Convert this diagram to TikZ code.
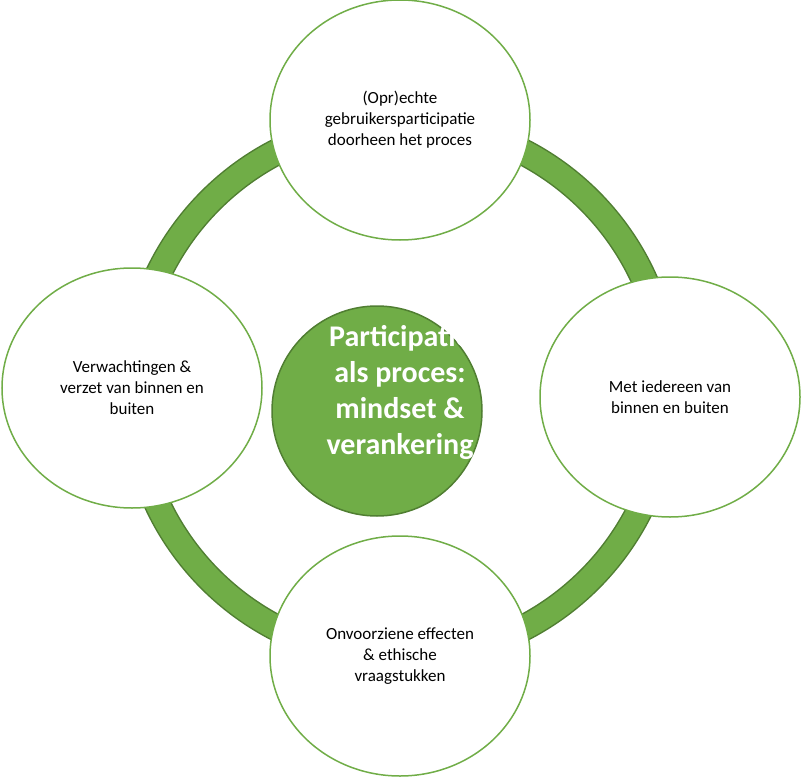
\documentclass[tikz,border=0pt]{standalone}
\usepackage{fontspec}
\setmainfont{Carlito}
\definecolor{gr}{HTML}{70AD47}
\definecolor{grd}{HTML}{507E32}
\usetikzlibrary{shapes.geometric}
\begin{document}
\begin{tikzpicture}[x=1pt,y=-1pt,
 outer/.style={ellipse,draw=gr,line width=1.5pt,fill=white,minimum width=260pt,minimum height=240pt,inner sep=0pt,align=center,font=\fontsize{17}{21}\selectfont},
 ctr/.style={circle,draw=grd,line width=1.5pt,fill=gr,minimum size=210pt,inner sep=0pt}]
\useasboundingbox (0,0) rectangle (801,779);
\draw[grd,line width=27pt] (400,390) circle (268);
\draw[gr,line width=24pt] (400,390) circle (268);
\node[outer] (t) at (400,120) {(Opr)echte\\gebruikersparticipatie\\doorheen het proces};
\node[outer] (b) at (400,656) {Onvoorziene effecten\\\& ethische\\vraagstukken};
\node[outer] (l) at (132,388) {Verwachtingen \&\\verzet van binnen en\\buiten};
\node[outer] (r) at (670,397) {Met iedereen van\\binnen en buiten};
\node[ctr] (c) at (377,411) {};
\node[text=white,align=center,font=\bfseries\fontsize{30}{36}\selectfont] (ct) at (400,392) {Participatie\\als proces:\\mindset \&\\verankering};
\end{tikzpicture}
\end{document}
